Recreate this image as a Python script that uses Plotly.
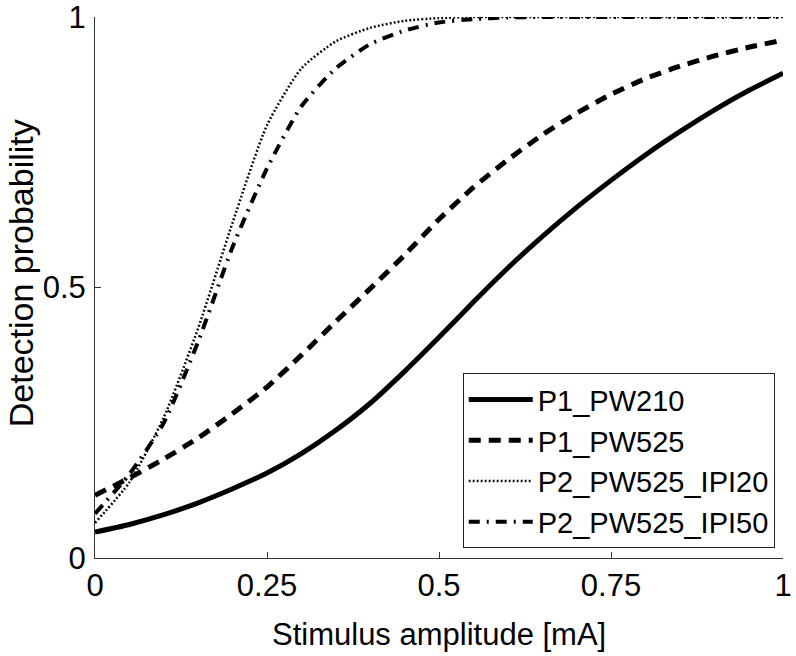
import plotly.graph_objects as go

amp = [0, 0.05, 0.1, 0.15, 0.2, 0.25, 0.3, 0.35, 0.4, 0.45, 0.5, 0.55, 0.6, 0.65, 0.7, 0.75, 0.8, 0.85, 0.9, 0.95, 1.0]

p1_pw210 = [0.048, 0.062, 0.080, 0.102, 0.128, 0.157, 0.193, 0.236, 0.286, 0.345, 0.408, 0.473, 0.536, 0.594, 0.648, 0.698, 0.745, 0.788, 0.828, 0.864, 0.896]
p1_pw525 = [0.116, 0.148, 0.183, 0.222, 0.267, 0.316, 0.375, 0.437, 0.498, 0.560, 0.626, 0.685, 0.736, 0.782, 0.822, 0.857, 0.886, 0.909, 0.928, 0.944, 0.957]
p2_ipi20 = [0.065, 0.140, 0.260, 0.425, 0.620, 0.800, 0.905, 0.955, 0.980, 0.993, 0.998, 1.0, 1.0, 1.0, 1.0, 1.0, 1.0, 1.0, 1.0, 1.0, 1.0]
p2_ipi50 = [0.082, 0.155, 0.250, 0.400, 0.575, 0.720, 0.835, 0.905, 0.950, 0.975, 0.990, 0.996, 0.999, 1.0, 1.0, 1.0, 1.0, 1.0, 1.0, 1.0, 1.0]

names = ["P1_PW210", "P1_PW525", "P2_PW525_IPI20", "P2_PW525_IPI50"]
series = [p1_pw210, p1_pw525, p2_ipi20, p2_ipi50]
styles = [
    dict(width=5, dash="solid"),
    dict(width=5, dash="12px,8px"),
    dict(width=2.5, dash="1.8px,2.2px"),
    dict(width=4, dash="11px,7px,2px,7px"),
]

x_ticks = [0, 0.25, 0.5, 0.75, 1]
x_tick_text = ["0", "0.25", "0.5", "0.75", "1"]
y_ticks = [0, 0.5, 1]
y_tick_text = ["0", "0.5", "1"]

fig = go.Figure()
for i, (nm, ys, st) in enumerate(zip(names, series, styles)):
    fig.add_trace(go.Scatter(
        x=amp, y=ys, mode="lines", name=nm,
        line=dict(color="black", shape="spline", smoothing=0.6, **st),
    ))

font = "Liberation Sans, Arial, sans-serif"
fig.update_layout(
    width=796, height=656,
    margin=dict(l=95, r=13, t=17, b=98, autoexpand=False),
    paper_bgcolor="white", plot_bgcolor="white",
    font=dict(family=font, size=31, color="black"),
    showlegend=True,
    legend=dict(
        x=0.988, y=0.018, xanchor="right", yanchor="bottom",
        bordercolor="#222", borderwidth=1, bgcolor="white",
        font=dict(size=29), itemwidth=64, traceorder="normal",
    ),
    xaxis=dict(
        range=[0, 1], tickvals=x_ticks, ticktext=x_tick_text,
        ticks="inside", ticklen=6, tickcolor="#333", showgrid=False, zeroline=False,
        showline=True, linecolor="#333", linewidth=1, ticklabelstandoff=0,
        tickfont=dict(size=31), ticklabeloverflow="allow", automargin=False,
    ),
    yaxis=dict(
        range=[0, 1], tickvals=y_ticks, ticktext=y_tick_text,
        ticks="inside", ticklen=6, tickcolor="#333", showgrid=False, zeroline=False,
        showline=True, linecolor="#333", linewidth=1, ticklabelstandoff=2,
        tickfont=dict(size=31), ticklabeloverflow="allow", automargin=False,
    ),
    annotations=[
        dict(text="Stimulus amplitude [mA]", xref="paper", yref="paper",
             x=0.5, y=-0.1405, xanchor="center", yanchor="middle",
             showarrow=False, font=dict(size=31)),
        dict(text="Detection probability", xref="paper", yref="paper",
             x=-0.107, y=0.527, xanchor="center", yanchor="middle", textangle=-90,
             showarrow=False, font=dict(size=34)),
    ],
)

fig.write_html("out.html", config={"displayModeBar": False},
               post_script="document.body.style.margin='0px';")
